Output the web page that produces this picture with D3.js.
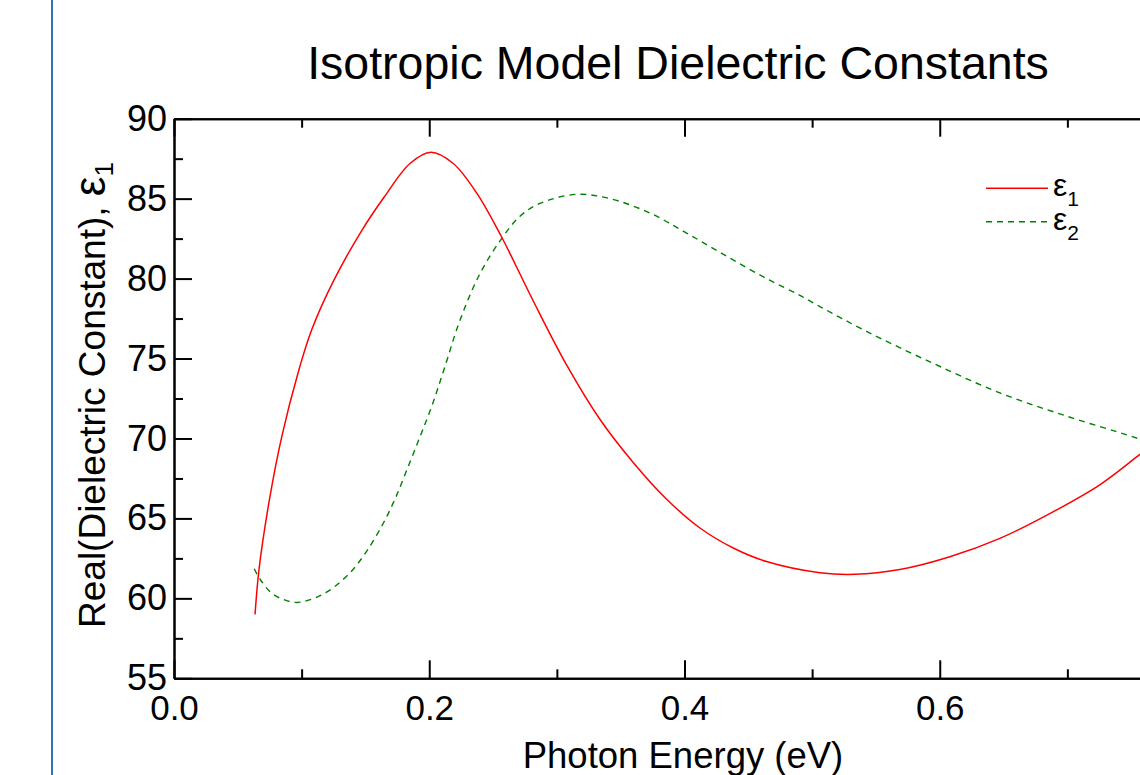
<!DOCTYPE html>
<html>
<head>
<meta charset="utf-8">
<script src="https://cdn.jsdelivr.net/npm/d3@7"></script>
<style>
  body { margin: 0; background: #fff; }
  svg { display: block; font-family: "Liberation Sans", Arial, sans-serif; }
</style>
</head>
<body>
<div id="chart"></div>
<script>
// values
const eps1Energy = [0.0635, 0.0666, 0.0744, 0.0844, 0.0979, 0.1079, 0.1253, 0.1471, 0.1647, 0.1849,
	0.2013, 0.2188, 0.2376, 0.2567, 0.2815, 0.3076, 0.3337, 0.3598, 0.3860,
	0.4121, 0.4382, 0.4643, 0.5061, 0.5335, 0.5687, 0.6079, 0.6471, 0.6862, 0.7254, 0.7568, 0.77];
const eps1Values = [59.0, 61.8, 66.0, 70.1, 74.3, 76.8, 79.9, 83.0, 85.1, 87.2,
	87.9, 87.2, 85.3, 82.6, 78.6, 74.6, 71.2, 68.5, 66.2,
	64.4, 63.15, 62.3, 61.6, 61.5, 61.8, 62.6, 63.75, 65.3, 67.1, 69.0, 69.8];

const eps2Energy = [0.0629, 0.0674, 0.0778, 0.0948, 0.1079, 0.1209, 0.1379, 0.1510, 0.1640, 0.1731,
	0.1823, 0.1927, 0.2019, 0.2115, 0.2241, 0.2397, 0.2567, 0.2711, 0.2867, 0.3155,
	0.3416, 0.3729, 0.4016, 0.4330, 0.4643, 0.4904, 0.5061, 0.5426, 0.5948, 0.6471, 0.6993, 0.7515, 0.77];
const eps2Values = [61.85, 61.2, 60.25, 59.75, 59.95, 60.45, 61.6, 62.95, 64.7, 66.2,
	68.0, 70.1, 72.0, 74.3, 77.4, 80.3, 82.5, 83.9, 84.7, 85.27,
	85.0, 84.1, 82.85, 81.4, 80.0, 78.95, 78.25, 76.7, 74.7, 72.85, 71.4, 70.1, 69.6];

const xTicks = [0.0, 0.2, 0.4, 0.6, 0.8];
const xMinorTicks = [0.1, 0.3, 0.5, 0.7];
const yTicks = [55, 60, 65, 70, 75, 80, 85, 90];
const yMinorTicks = [57.5, 62.5, 67.5, 72.5, 77.5, 82.5, 87.5];

const title = 'Isotropic Model Dielectric Constants';
const xLabel = 'Photon Energy (eV)';
const yLabel = 'Real(Dielectric Constant), ';

const width = 1140;
const height = 775;
const plot = { left: 174, right: 1195, top: 118.7, bottom: 678.3 };

const svg = d3.select('#chart').append('svg')
	.attr('width', width)
	.attr('height', height);

// blue rule down the left of the page
svg.append('line')
	.attr('x1', 52).attr('x2', 52)
	.attr('y1', 0).attr('y2', height)
	.attr('stroke', '#2e74b5')
	.attr('stroke-width', 2);

const x = d3.scaleLinear().domain([0, 0.8]).range([plot.left, plot.right]);
const y = d3.scaleLinear().domain([55, 90]).range([plot.bottom, plot.top]);

// axes: ticks point inward, negative inner size means padding is the full gap
const major = 18;
const minor = 9;

function frameAxis(axis, transform, labels) {
	const g = svg.append('g').attr('transform', transform).call(axis);
	g.select('.domain').attr('stroke-width', 2);
	g.selectAll('.tick line').attr('stroke-width', 2);
	if (!labels) g.selectAll('.tick text').remove();
	return g;
}

const xAxis = d3.axisBottom(x).tickValues(xTicks).tickSizeInner(-major).tickSizeOuter(0).tickPadding(17)
	.tickFormat(d3.format('.1f'));
const gx = frameAxis(xAxis, `translate(0,${plot.bottom})`, true);
gx.selectAll('.tick text').attr('font-size', 35).attr('fill', '#000');
frameAxis(d3.axisBottom(x).tickValues(xMinorTicks).tickSizeInner(-minor).tickSizeOuter(0), `translate(0,${plot.bottom})`, false);

frameAxis(d3.axisTop(x).tickValues(xTicks).tickSizeInner(-major).tickSizeOuter(0), `translate(0,${plot.top})`, false);
frameAxis(d3.axisTop(x).tickValues(xMinorTicks).tickSizeInner(-minor).tickSizeOuter(0), `translate(0,${plot.top})`, false);

const yAxis = d3.axisLeft(y).tickValues(yTicks).tickSizeInner(-major).tickSizeOuter(0).tickPadding(7)
	.tickFormat(d3.format('d'));
const gy = frameAxis(yAxis, `translate(${plot.left},0)`, true);
gy.selectAll('.tick text').attr('font-size', 36).attr('fill', '#000');
frameAxis(d3.axisLeft(y).tickValues(yMinorTicks).tickSizeInner(-minor).tickSizeOuter(0), `translate(${plot.left},0)`, false);

frameAxis(d3.axisRight(y).tickValues(yTicks).tickSizeInner(-major).tickSizeOuter(0), `translate(${plot.right},0)`, false);
frameAxis(d3.axisRight(y).tickValues(yMinorTicks).tickSizeInner(-minor).tickSizeOuter(0), `translate(${plot.right},0)`, false);

// curves
const line = d3.line()
	.x(d => x(d[0]))
	.y(d => y(d[1]))
	.curve(d3.curveCatmullRom.alpha(0.5));

const eps1 = d3.zip(eps1Energy, eps1Values);
const eps2 = d3.zip(eps2Energy, eps2Values);

svg.append('path')
	.datum(eps2)
	.attr('fill', 'none')
	.attr('stroke', '#008000')
	.attr('stroke-width', 1.4)
	.attr('stroke-dasharray', '6,5')
	.attr('d', line);

svg.append('path')
	.datum(eps1)
	.attr('fill', 'none')
	.attr('stroke', '#ff0000')
	.attr('stroke-width', 1.5)
	.attr('d', line);

// title and axis labels
svg.append('text')
	.attr('x', 678).attr('y', 79)
	.attr('text-anchor', 'middle')
	.attr('font-size', 46.5)
	.text(title);

svg.append('text')
	.attr('x', 683).attr('y', 768)
	.attr('text-anchor', 'middle')
	.attr('font-size', 36.5)
	.text(xLabel);

const yl = svg.append('text')
	.attr('transform', 'translate(105,628) rotate(-90)')
	.attr('text-anchor', 'start')
	.attr('font-size', 37);
yl.append('tspan').text(yLabel);
yl.append('tspan').attr('font-size', 44).text('ε');
yl.append('tspan').attr('font-size', 26).attr('dy', 8).text('1');

// legend
const legend = [
	{ name: '1', color: '#ff0000', dash: null, width: 1.5 },
	{ name: '2', color: '#008000', dash: '6,5', width: 1.4 },
];

const lg = svg.append('g').attr('class', 'legend');
legend.forEach((d, i) => {
	const ly = 188.3 + i * 33.4;
	lg.append('line')
		.attr('x1', 986).attr('x2', 1048)
		.attr('y1', ly).attr('y2', ly)
		.attr('stroke', d.color)
		.attr('stroke-width', d.width)
		.attr('stroke-dasharray', d.dash);
	const t = lg.append('text')
		.attr('x', 1053).attr('y', ly + 8)
		.attr('font-size', 32);
	t.append('tspan').text('ε');
	t.append('tspan').attr('font-size', 21).attr('dy', 10).text(d.name);
});
</script>
</body>
</html>
